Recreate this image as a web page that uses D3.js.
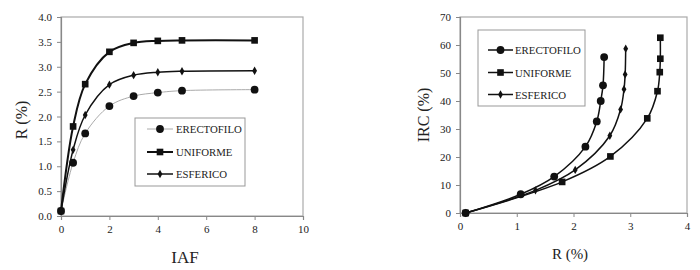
<!DOCTYPE html>
<html><head><meta charset="utf-8">
<script src="https://cdn.jsdelivr.net/npm/d3@7"></script>
<style>body{margin:0;background:#fff}svg{display:block}text{font-family:"Liberation Serif","Times New Roman",serif;fill:#222}</style>
</head><body><svg id="c" width="700" height="270"></svg>
<script>
const iaf = [0, 0.5, 1, 2, 3, 4, 5, 8];
const seriesNames = ["ERECTOFILO", "UNIFORME", "ESFERICO"];
const rErectofilo = [0.1, 1.07, 1.66, 2.21, 2.41, 2.48, 2.52, 2.54];
const rUniforme   = [0.1, 1.80, 2.65, 3.30, 3.48, 3.52, 3.53, 3.53];
const rEsferico   = [0.1, 1.33, 2.03, 2.64, 2.83, 2.89, 2.91, 2.92];
const ircErectofilo = [0, 6.7, 13.0, 23.7, 32.7, 40.0, 45.6, 55.7];
const ircUniforme   = [0, 11.1, 20.2, 33.8, 43.5, 50.3, 55.1, 62.6];
const ircEsferico   = [0, 8.1, 15.4, 27.6, 37.0, 44.2, 49.5, 58.7];
const leftXTicks = [0, 2, 4, 6, 8, 10];
const leftYTicks = [0, 0.5, 1, 1.5, 2, 2.5, 3, 3.5, 4];
const rightXTicks = [0, 1, 2, 3, 4];
const rightYTicks = [0, 10, 20, 30, 40, 50, 60, 70];

const svg = d3.select("#c");
const styles = {
  ERECTOFILO: {shape: d3.symbolCircle, size: 48},
  UNIFORME: {shape: d3.symbolSquare, size: 44},
  ESFERICO: {shape: d3.symbolDiamond, size: 20}
};

function panel(o) {
  const g = svg.append("g");
  const x = d3.scaleLinear().domain(o.xd).range([o.x0, o.x1]);
  const y = d3.scaleLinear().domain(o.yd).range([o.y1, o.y0]);
  g.append("rect").attr("x", o.x0).attr("y", o.y0).attr("width", o.x1 - o.x0).attr("height", o.y1 - o.y0)
    .attr("fill", "none").attr("stroke", "#aaa").attr("stroke-width", 1.2);
  const ax = g.append("g").attr("transform", `translate(0,${o.y1})`)
    .call(d3.axisBottom(x).tickValues(o.xt).tickSize(4).tickPadding(5).tickFormat(o.xf));
  const ay = g.append("g").attr("transform", `translate(${o.x0},0)`)
    .call(d3.axisLeft(y).tickValues(o.yt).tickSize(4).tickPadding(5).tickFormat(o.yf));
  [ax, ay].forEach(a => {
    a.attr("font-family", null);
    a.select(".domain").attr("stroke", "#888").attr("stroke-width", 1.2);
    a.selectAll(".tick line").attr("stroke", "#888");
    a.selectAll("text").style("font-family", '"Liberation Serif",serif').style("font-size", "11px").attr("fill", "#333");
  });
  g.append("text").attr("x", o.xtx).attr("y", o.xty).attr("text-anchor", "middle")
    .style("font-size", o.xtSize + "px").text(o.xTitle);
  g.append("text").attr("transform", `translate(${o.ytx},${o.yty}) rotate(-90)`).attr("text-anchor", "middle")
    .style("font-size", "16px").text(o.yTitle);
  const line = d3.line().x(d => x(d[0])).y(d => y(d[1])).curve(d3.curveCatmullRom.alpha(0.5));
  o.series.forEach(s => {
    const pts = s.xs.map((v, i) => [v, s.ys[i]]);
    g.append("path").datum(pts).attr("d", line).attr("fill", "none")
      .attr("stroke", s.color).attr("stroke-width", s.width);
    g.selectAll(null).data(pts).enter().append("path")
      .attr("transform", d => `translate(${x(d[0])},${y(d[1])})`)
      .attr("d", d3.symbol().type(styles[s.name].shape).size(styles[s.name].size))
      .attr("fill", "#111");
  });
  const L = o.legend;
  g.append("rect").attr("x", L.x).attr("y", L.y).attr("width", L.w).attr("height", L.h)
    .attr("fill", "#fff").attr("stroke", "#999").attr("stroke-width", 1);
  o.series.forEach((s, i) => {
    const yy = L.rows[i];
    g.append("line").attr("x1", L.lx0).attr("x2", L.lx1).attr("y1", yy).attr("y2", yy)
      .attr("stroke", s.color).attr("stroke-width", s.width);
    g.append("path").attr("transform", `translate(${(L.lx0 + L.lx1) / 2},${yy})`)
      .attr("d", d3.symbol().type(styles[s.name].shape).size(styles[s.name].size)).attr("fill", "#111");
    g.append("text").attr("x", L.tx).attr("y", yy + 4).style("font-size", "10.8px").attr("fill", "#333").text(s.name);
  });
}

panel({
  x0: 61, x1: 303, y0: 17, y1: 216, xd: [0, 10], yd: [0, 4],
  xt: leftXTicks, yt: leftYTicks, xf: d3.format("d"), yf: d3.format(".1f"),
  xTitle: "IAF", xtx: 185, xty: 263, xtSize: 17,
  yTitle: "R (%)", ytx: 27, yty: 120,
  series: [
    {name: "ERECTOFILO", xs: iaf, ys: rErectofilo, color: "#aaa", width: 1},
    {name: "UNIFORME", xs: iaf, ys: rUniforme, color: "#111", width: 2},
    {name: "ESFERICO", xs: iaf, ys: rEsferico, color: "#111", width: 1.5}
  ],
  legend: {x: 135, y: 118, w: 110, h: 68, rows: [129, 152, 174], lx0: 147, lx1: 173, tx: 176}
});

panel({
  x0: 460, x1: 687, y0: 17, y1: 213, xd: [0, 4], yd: [0, 70],
  xt: rightXTicks, yt: rightYTicks, xf: d3.format("d"), yf: d3.format("d"),
  xTitle: "R (%)", xtx: 570, xty: 259, xtSize: 15,
  yTitle: "IRC (%)", ytx: 429, yty: 115,
  series: [
    {name: "ERECTOFILO", xs: rErectofilo, ys: ircErectofilo, color: "#111", width: 1.5},
    {name: "UNIFORME", xs: rUniforme, ys: ircUniforme, color: "#111", width: 1.5},
    {name: "ESFERICO", xs: rEsferico, ys: ircEsferico, color: "#111", width: 1.5}
  ],
  legend: {x: 478, y: 30, w: 107, h: 76, rows: [50, 72.5, 94.5], lx0: 488, lx1: 513, tx: 515}
});
</script></body></html>
